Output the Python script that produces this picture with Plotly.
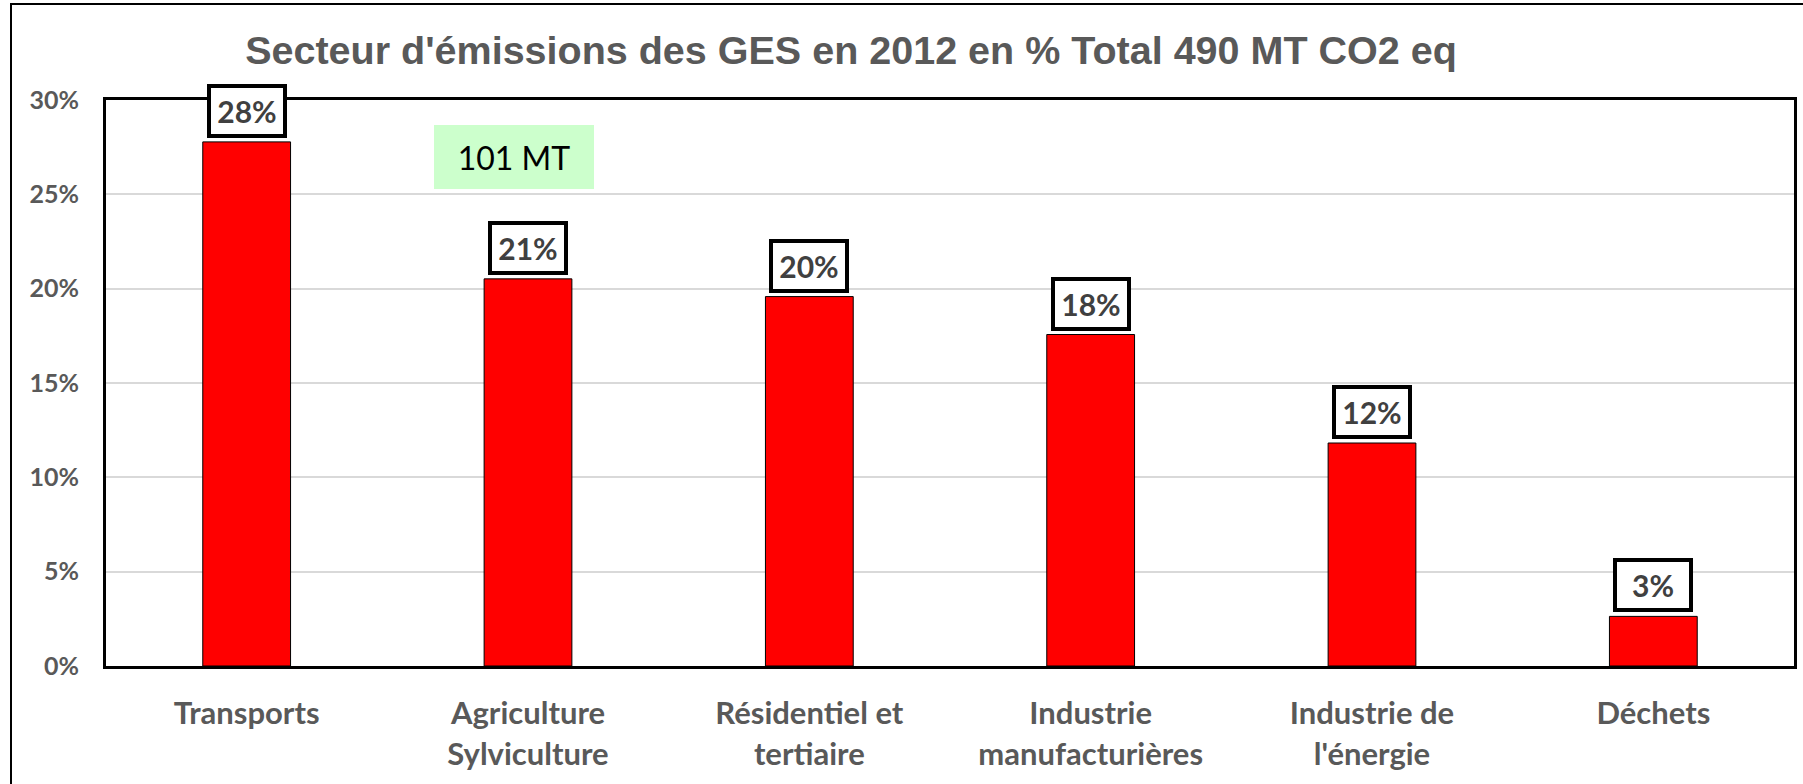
import plotly.graph_objects as go

# ---- data ----
categories = [
    "Transports",
    "Agriculture<br>Sylviculture",
    "Résidentiel et<br>tertiaire",
    "Industrie<br>manufacturières",
    "Industrie de<br>l'énergie",
    "Déchets",
]
shares_pct = [27.78, 20.52, 19.58, 17.57, 11.82, 2.63]
y_tickvals = [0, 0.05, 0.10, 0.15, 0.20, 0.25, 0.30]
y_ticktext = ["0%", "5%", "10%", "15%", "20%", "25%", "30%"]
title_text = "Secteur d'émissions des GES en 2012 en % Total 490 MT CO2 eq"
note_text = "101 MT"

shares = [v / 100 for v in shares_pct]
labels = [f"{round(v)}%" for v in shares_pct]

W, H = 1803, 784
ML, MT = 106, 100
MR = W - 1794
MB = H - 666
plot_w = W - ML - MR
plot_h = H - MT - MB

fig = go.Figure()
fig.add_trace(go.Bar(
    x=list(range(len(categories))),
    y=shares,
    marker=dict(color="#FF0000", line=dict(color="#000000", width=1)),
    hoverinfo="skip",
))

annotations = []
for i, (v, lab) in enumerate(zip(shares, labels)):
    annotations.append(dict(
        x=i, y=v, xref="x", yref="y",
        text=f"<b>{lab}</b>",
        showarrow=False,
        yanchor="bottom", xanchor="center",
        yshift=4,
        width=72, height=46,
        bgcolor="#FFFFFF",
        bordercolor="#000000", borderwidth=4, borderpad=0,
        font=dict(family="Lato", size=30, color="#404040"),
        valign="middle", align="center",
    ))

# green "101 MT" note
annotations.append(dict(
    x=0.95, y=0.2699, xref="x", yref="y",
    text=note_text, showarrow=False,
    xanchor="center", yanchor="middle",
    width=160, height=64,
    bgcolor="#CCFFCC", borderwidth=0, borderpad=0,
    font=dict(family="Lato", size=32, color="#000000"),
    valign="middle", align="center",
))

fig.update_layout(
    width=W, height=H,
    margin=dict(l=ML, r=MR, t=MT, b=MB, autoexpand=False),
    paper_bgcolor="#FFFFFF",
    plot_bgcolor="#FFFFFF",
    showlegend=False,
    bargap=0.688,
    title=dict(
        text=f"<b>{title_text}</b>",
        x=851 / W, xref="container", xanchor="center",
        y=1 - 50 / H, yref="container", yanchor="middle",
        font=dict(family="Liberation Sans", size=39.5, color="#595959"),
    ),
    annotations=annotations,
    shapes=[dict(
        type="rect", xref="paper", yref="paper",
        x0=(11 - ML) / plot_w, x1=(W + 6 - ML) / plot_w,
        y0=(H - MB - (H + 6)) / plot_h, y1=(H - MB - 4) / plot_h,
        line=dict(color="#000000", width=2),
        fillcolor="rgba(0,0,0,0)", layer="above",
    )],
)

fig.update_xaxes(
    automargin=False,
    tickmode="array",
    tickvals=list(range(len(categories))),
    ticktext=[f"<b>{c}</b>" for c in categories],
    range=[-0.5, len(categories) - 0.5],
    showline=True, linecolor="#000000", linewidth=3, mirror=True,
    showgrid=False, ticks="",
    ticklabelstandoff=18,
    tickfont=dict(family="Lato", size=31, color="#595959"),
)
fig.update_yaxes(
    automargin=False,
    range=[0, 0.30],
    tickmode="array",
    tickvals=y_tickvals,
    ticktext=[f"<b>{t}</b>" for t in y_ticktext],
    showline=True, linecolor="#000000", linewidth=3, mirror=True,
    showgrid=True, gridcolor="#D9D9D9", gridwidth=2,
    zeroline=False, ticks="",
    ticklabelstandoff=19,
    tickfont=dict(family="Lato", size=25, color="#595959"),
)

# remove the default 8px page margin so the figure fills the window exactly
fig.write_html(
    "out.html",
    config={"displayModeBar": False},
    post_script="document.body.style.margin='0px';",
)
